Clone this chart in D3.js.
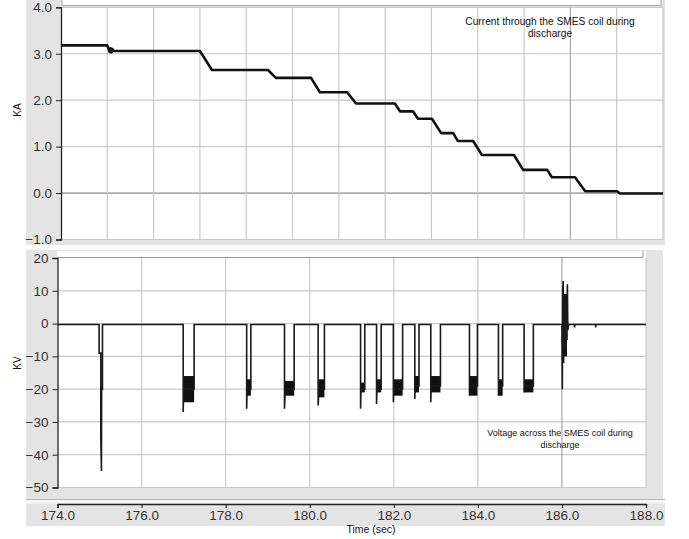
<!DOCTYPE html>
<html>
<head>
<meta charset="utf-8">
<script src="https://cdn.jsdelivr.net/npm/d3@7"></script>
<style>
  html, body { margin: 0; padding: 0; background: #fff; }
  svg { display: block; font-family: "Liberation Sans", Arial, sans-serif; }
</style>
</head>
<body>
<svg id="chart" width="689" height="539"></svg>
<script>
// ---------------- DATA ----------------
// Top panel: current through the SMES coil (KA) vs time (sec)
const currentTime = [174.0, 175.0, 175.05, 175.07, 175.09, 175.11, 175.13, 177.0, 177.26, 178.47, 178.64, 179.4, 179.59,
  180.18, 180.37, 181.21, 181.32, 181.6, 181.71, 182.01, 182.21, 182.47, 182.57, 182.9, 183.09,
  183.78, 183.98, 184.5, 184.6, 185.1, 185.32, 186.01, 186.07, 187.0];
const currentKA = [3.18, 3.18, 3.04, 3.12, 3.03, 3.1, 3.06, 3.06, 2.65, 2.65, 2.48, 2.48, 2.17,
  2.17, 1.93, 1.93, 1.76, 1.76, 1.60, 1.60, 1.29, 1.29, 1.12, 1.12, 0.82,
  0.82, 0.50, 0.50, 0.34, 0.34, 0.04, 0.04, -0.01, -0.01];
const topYTicks = [4.0, 3.0, 2.0, 1.0, 0.0, -1.0];
const topXGrid = [175, 176, 177, 178, 179, 180, 181, 182, 183, 184, 185, 186, 187];

// Bottom panel: voltage across the SMES coil (KV) vs time (sec)
const voltageTime = [174.0, 174.99, 174.99, 175.03, 175.03, 175.045, 175.05, 175.07, 175.07,
  176.99, 176.99, 177.0, 177.25, 177.25,
  178.5, 178.5, 178.51, 178.6, 178.6,
  179.4, 179.4, 179.42, 179.63, 179.63,
  180.2, 180.2, 180.22, 180.35, 180.35,
  181.21, 181.21, 181.22, 181.31, 181.31,
  181.59, 181.59, 181.6, 181.7, 181.7,
  181.99, 181.99, 182.0, 182.21, 182.21,
  182.5, 182.5, 182.51, 182.6, 182.6,
  182.88, 182.88, 182.89, 183.11, 183.11,
  183.8, 183.8, 183.81, 183.99, 183.99,
  184.49, 184.49, 184.5, 184.59, 184.59,
  185.1, 185.1, 185.11, 185.32, 185.32,
  186.0, 186.01, 186.02, 186.03, 186.04, 186.06, 186.08, 186.1, 186.12, 186.13, 186.14, 186.16,
  186.3, 186.3, 186.31, 186.8, 186.8, 186.81, 188.0];
const voltageKV = [-0.3, -0.3, -9, -9, -35, -45, -20, -20, -0.3,
  -0.3, -27, -20, -20, -0.3,
  -0.3, -26, -20, -20, -0.3,
  -0.3, -26, -20, -20, -0.3,
  -0.3, -25, -20, -20, -0.3,
  -0.3, -26, -20, -20, -0.3,
  -0.3, -24.5, -20, -20, -0.3,
  -0.3, -24, -20, -20, -0.3,
  -0.3, -23, -19, -19, -0.3,
  -0.3, -24, -19, -19, -0.3,
  -0.3, -22, -19, -19, -0.3,
  -0.3, -22, -19, -19, -0.3,
  -0.3, -21, -19, -19, -0.3,
  -0.3, -20, 10, 13, -12, 9, -8, 7, -5, 12, -2, -0.3,
  -0.3, -1.2, -0.3, -0.3, -1.2, -0.3, -0.3];
// dense noise bands during each discharge pulse
const bandStart = [177.0, 178.5, 179.41, 180.21, 181.21, 181.59, 181.99, 182.5, 182.88, 183.8, 184.49, 185.1, 186.02];
const bandEnd   = [177.25, 178.6, 179.63, 180.35, 181.31, 181.7, 182.21, 182.6, 183.11, 183.99, 184.59, 185.32, 186.12];
const bandTop   = [-16, -17, -17.5, -17, -18, -17, -17, -16, -16, -16, -17, -17, 9];
const bandBot   = [-24, -22, -22, -22.5, -21, -21, -22, -21, -21, -22, -22, -21, -10];
const botYTicks = [20, 10, 0, -10, -20, -30, -40, -50];
const botXTicks = [174, 176, 178, 180, 182, 184, 186, 188];

const topNote = ["Current through the SMES coil during", "discharge"];
const botNote = ["Voltage across the SMES coil during", "discharge"];
const topYLabel = "KA", botYLabel = "KV", xLabel = "Time (sec)";

// ---------------- DRAW ----------------
const svg = d3.select("#chart");
const GRAY = "#e4e4e4", GRID = "#c9c9c9";

// Top panel geometry
const T = {x0: 61, x1: 663, y0: 7.3, y1: 239.5};
const xT = d3.scaleLinear().domain([174, 187]).range([T.x0, T.x1]);
const yT = d3.scaleLinear().domain([-1, 4]).range([T.y1, T.y0]);

svg.append("rect").attr("x", 26).attr("y", 0).attr("width", 639).attr("height", 245).attr("fill", GRAY);
svg.append("rect").attr("x", 62).attr("y", -2).attr("width", 599).attr("height", 7.5)
  .attr("fill", "#fff").attr("stroke", "#aaa");
svg.append("rect").attr("x", T.x0).attr("y", T.y0).attr("width", T.x1 - T.x0).attr("height", T.y1 - T.y0).attr("fill", "#fff");

const gT = svg.append("g");
gT.selectAll("line.hg").data(topYTicks).join("line")
  .attr("x1", T.x0).attr("x2", T.x1).attr("y1", d => yT(d)).attr("y2", d => yT(d))
  .attr("stroke", d => d === 0 ? "#8a8a8a" : GRID).attr("stroke-width", 1.2);
gT.selectAll("line.vg").data(topXGrid).join("line")
  .attr("x1", d => xT(d)).attr("x2", d => xT(d)).attr("y1", T.y0).attr("y2", T.y1)
  .attr("stroke", d => d === 185 ? "#a8a8a8" : GRID).attr("stroke-width", 1.2);

// y axis top
const axT = d3.axisLeft(yT).tickValues(topYTicks).tickFormat(d3.format(".1f")).tickSize(5).tickPadding(4);
svg.append("g").attr("transform", `translate(${T.x0},0)`).call(axT);

const topLine = d3.line().x((d, i) => xT(currentTime[i])).y(d => yT(d));
svg.append("path").attr("d", topLine(currentKA)).attr("fill", "none")
  .attr("stroke", "#111").attr("stroke-width", 2.6).attr("stroke-linejoin", "round");

// Bottom panel geometry
const B = {x0: 57.5, x1: 646, y0: 258, y1: 487.5};
const xB = d3.scaleLinear().domain([174, 188]).range([B.x0, B.x1]);
const yB = d3.scaleLinear().domain([-50, 20]).range([B.y1, B.y0]);

svg.append("rect").attr("x", 26).attr("y", 250).attr("width", 637).attr("height", 250).attr("fill", GRAY);
svg.append("rect").attr("x", B.x0).attr("y", 251).attr("width", B.x1 - B.x0).attr("height", B.y1 - 251).attr("fill", "#fff");
svg.append("path").attr("d", `M${B.x0},${B.y0 - 0.5}H643V251`).attr("fill", "none").attr("stroke", "#999");

const gB = svg.append("g");
gB.selectAll("line.hg").data(botYTicks.filter(d => d !== 20)).join("line")
  .attr("x1", B.x0).attr("x2", B.x1).attr("y1", d => yB(d)).attr("y2", d => yB(d))
  .attr("stroke", GRID).attr("stroke-width", 1.2);
gB.selectAll("line.vg").data(botXTicks.filter(d => d !== 174)).join("line")
  .attr("x1", d => xB(d)).attr("x2", d => xB(d)).attr("y1", B.y0).attr("y2", B.y1)
  .attr("stroke", d => d === 186 ? "#a8a8a8" : GRID).attr("stroke-width", 1.2);

const axB = d3.axisLeft(yB).tickValues(botYTicks).tickFormat(d3.format("d")).tickSize(5).tickPadding(4);
svg.append("g").attr("transform", `translate(${B.x0},0)`).call(axB);

// noise bands
svg.append("g").selectAll("rect").data(bandStart).join("rect")
  .attr("x", (d) => xB(d)).attr("width", (d, i) => xB(bandEnd[i]) - xB(d))
  .attr("y", (d, i) => yB(bandTop[i])).attr("height", (d, i) => yB(bandBot[i]) - yB(bandTop[i]))
  .attr("fill", "#111");

const botLine = d3.line().x((d, i) => xB(voltageTime[i])).y(d => yB(d));
svg.append("path").attr("d", botLine(voltageKV)).attr("fill", "none")
  .attr("stroke", "#1a1a1a").attr("stroke-width", 1.6).attr("stroke-linejoin", "miter");

// X axis strip
svg.append("rect").attr("x", 26).attr("y", 500).attr("width", 639).attr("height", 26).attr("fill", GRAY);
svg.append("rect").attr("x", 26).attr("y", 500).attr("width", 639).attr("height", 3.5).attr("fill", "#f6f6f6");
svg.append("line").attr("x1", 26).attr("x2", 665).attr("y1", 499.5).attr("y2", 499.5).attr("stroke", "#b4b4b4");
const axX = d3.axisBottom(xB).tickValues(botXTicks).tickFormat(d3.format(".1f")).tickSize(4).tickPadding(2);
svg.append("g").attr("transform", `translate(0,504)`).call(axX);

// style axes
svg.selectAll(".domain").attr("stroke", "#222").attr("stroke-width", 1.3);
svg.selectAll(".tick line").attr("stroke", "#222");
svg.selectAll(".tick text").attr("fill", "#333").style("font-size", "13.5px")
  .style("font-family", "'Liberation Sans', Arial, sans-serif");

// labels
svg.append("text").attr("transform", "translate(21,110) rotate(-90)").attr("text-anchor", "middle")
  .style("font-size", "10px").attr("fill", "#111").text(topYLabel);
svg.append("text").attr("transform", "translate(21,363) rotate(-90)").attr("text-anchor", "middle")
  .style("font-size", "10px").attr("fill", "#111").text(botYLabel);
svg.append("text").attr("x", 371).attr("y", 533).attr("text-anchor", "middle")
  .style("font-size", "10.5px").attr("fill", "#111").text(xLabel);

svg.append("g").selectAll("text").data(topNote).join("text")
  .attr("x", 550).attr("y", (d, i) => 25 + i * 11.5).attr("text-anchor", "middle")
  .style("font-size", "10.2px").attr("fill", "#111").text(d => d);
svg.append("g").selectAll("text").data(botNote).join("text")
  .attr("x", 560).attr("y", (d, i) => 436 + i * 11.5).attr("text-anchor", "middle")
  .style("font-size", "9px").attr("fill", "#111").text(d => d);
</script>
</body>
</html>
